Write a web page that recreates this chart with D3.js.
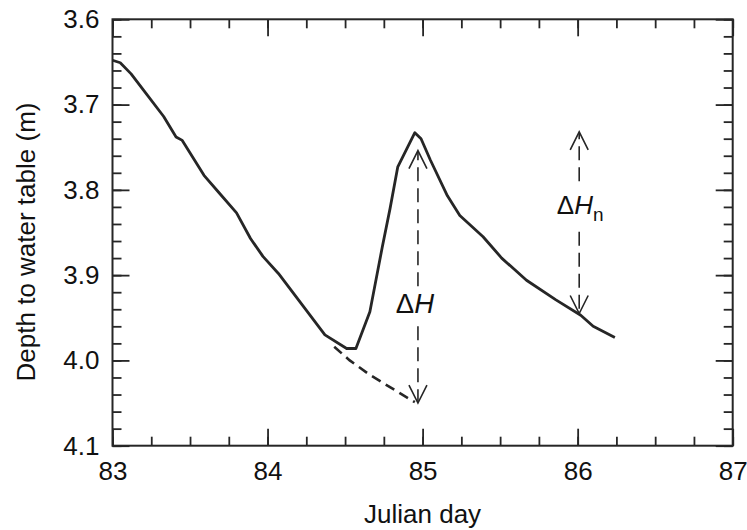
<!DOCTYPE html>
<html>
<head>
<meta charset="utf-8">
<script src="https://cdn.jsdelivr.net/npm/d3@7"></script>
<style>
  html, body { margin: 0; padding: 0; background: #fff; }
  svg { display: block; font-family: "Liberation Sans", Arial, Helvetica, sans-serif; }
</style>
</head>
<body>
<svg id="chart" width="747" height="530"></svg>
<script>
// Observed water-table depth (m) by Julian day
const days = [83.00, 83.05, 83.12, 83.20, 83.33, 83.41, 83.45, 83.59, 83.69, 83.80,
              83.89, 83.97, 84.07, 84.37, 84.51, 84.57, 84.66, 84.74, 84.79, 84.84,
              84.95, 84.99, 85.05, 85.16, 85.24, 85.39, 85.51, 85.67, 85.86, 86.02,
              86.10, 86.24];
const depth = [3.648, 3.651, 3.664, 3.683, 3.714, 3.738, 3.742, 3.783, 3.804, 3.827,
               3.857, 3.878, 3.898, 3.970, 3.986, 3.986, 3.943, 3.867, 3.822, 3.773,
               3.733, 3.740, 3.765, 3.807, 3.830, 3.855, 3.880, 3.906, 3.929, 3.947,
               3.960, 3.973];

// Extrapolated recession (no recharge event)
const recessDays  = [84.43, 84.53, 84.66, 84.95];
const recessDepth = [3.984, 4.000, 4.017, 4.049];

// Rise annotations: [day, bottom depth, top depth, label-gap bottom, label-gap top]
const riseH  = [84.97, 4.050, 3.754, 3.960, 3.913];
const riseHn = [86.01, 3.945, 3.732, 3.849, 3.790];

// Axis ticks
const xTicks = [83, 84, 85, 86, 87];
const yTicks = [3.6, 3.7, 3.8, 3.9, 4.0, 4.1];
const xMinor = d3.range(83, 87.001, 0.25);
const yMinor = d3.range(3.6, 4.1001, 0.02);

const margin = { left: 112.5, right: 14.3, top: 19.3, bottom: 84.3 };
const W = 747, H = 530;
const svg = d3.select("#chart");

const x = d3.scaleLinear().domain([83, 87]).range([margin.left, W - margin.right]);
const y = d3.scaleLinear().domain([3.6, 4.1]).range([margin.top, H - margin.bottom]);

const ink = "#262626";
const major = 17, minor = 9;

function styleAxis(g) {
  g.select(".domain").remove();
  g.selectAll(".tick line").attr("stroke", ink).attr("stroke-width", 1.8);
  g.selectAll("text").attr("fill", "#111").attr("font-size", 26);
}

// bottom
svg.append("g").attr("transform", `translate(0,${y(4.1)})`)
  .call(d3.axisBottom(x).tickValues(xMinor).tickSize(-minor).tickFormat(""))
  .call(styleAxis);
svg.append("g").attr("transform", `translate(0,${y(4.1)})`)
  .call(d3.axisBottom(x).tickValues(xTicks).tickSize(-major).tickPadding(16).tickFormat(d3.format("d")))
  .call(styleAxis);
// top
svg.append("g").attr("transform", `translate(0,${y(3.6)})`)
  .call(d3.axisTop(x).tickValues(xMinor).tickSize(-minor).tickFormat(""))
  .call(styleAxis);
svg.append("g").attr("transform", `translate(0,${y(3.6)})`)
  .call(d3.axisTop(x).tickValues(xTicks).tickSize(-major).tickFormat(""))
  .call(styleAxis);
// left
svg.append("g").attr("transform", `translate(${x(83)},0)`)
  .call(d3.axisLeft(y).tickValues(yMinor).tickSize(-minor).tickFormat(""))
  .call(styleAxis);
svg.append("g").attr("transform", `translate(${x(83)},0)`)
  .call(d3.axisLeft(y).tickValues(yTicks).tickSize(-major).tickPadding(13).tickFormat(d3.format(".1f")))
  .call(styleAxis);
// right
svg.append("g").attr("transform", `translate(${x(87)},0)`)
  .call(d3.axisRight(y).tickValues(yMinor).tickSize(-minor).tickFormat(""))
  .call(styleAxis);
svg.append("g").attr("transform", `translate(${x(87)},0)`)
  .call(d3.axisRight(y).tickValues(yTicks).tickSize(-major).tickFormat(""))
  .call(styleAxis);

// frame
svg.append("rect")
  .attr("x", x(83)).attr("y", y(3.6))
  .attr("width", x(87) - x(83)).attr("height", y(4.1) - y(3.6))
  .attr("fill", "none").attr("stroke", ink).attr("stroke-width", 2);

// observed hydrograph
const line = d3.line().x(d => x(d[0])).y(d => y(d[1]));
svg.append("path")
  .datum(days.map((d, i) => [d, depth[i]]))
  .attr("d", line)
  .attr("fill", "none").attr("stroke", ink).attr("stroke-width", 2.8)
  .attr("stroke-linejoin", "round");

// extrapolated recession
svg.append("path")
  .datum(recessDays.map((d, i) => [d, recessDepth[i]]))
  .attr("d", line)
  .attr("fill", "none").attr("stroke", ink).attr("stroke-width", 2.6)
  .attr("stroke-dasharray", "10,6");

// double-headed dashed arrows with a break for the label
function riseArrow(r) {
  const [day, lo, hi, gapLo, gapHi] = r;
  const px = x(day);
  const g = svg.append("g").attr("stroke", ink).attr("fill", "none").attr("stroke-width", 1.6);
  g.append("line").attr("x1", px).attr("x2", px).attr("y1", y(gapHi)).attr("y2", y(hi) + 1)
    .attr("stroke-dasharray", "14,7");
  g.append("line").attr("x1", px).attr("x2", px).attr("y1", y(gapLo)).attr("y2", y(lo) - 1)
    .attr("stroke-dasharray", "14,7");
  g.append("path").attr("d", `M${px - 9},${y(hi) + 18}L${px},${y(hi)}L${px + 9},${y(hi) + 18}`);
  g.append("path").attr("d", `M${px - 9},${y(lo) - 18}L${px},${y(lo)}L${px + 9},${y(lo) - 18}`);
}
riseArrow(riseH);
riseArrow(riseHn);

// labels
const lblH = svg.append("text")
  .attr("x", x(riseH[0]) - 3).attr("y", 312.5)
  .attr("text-anchor", "middle").attr("font-size", 27.5).attr("fill", "#111");
lblH.append("tspan").text("Δ");
lblH.append("tspan").attr("font-style", "italic").text("H");

const lblHn = svg.append("text")
  .attr("x", x(riseHn[0]) + 1).attr("y", 213.5)
  .attr("text-anchor", "middle").attr("font-size", 26).attr("fill", "#111");
lblHn.append("tspan").text("Δ");
lblHn.append("tspan").attr("font-style", "italic").text("H");
lblHn.append("tspan").attr("font-size", 19).attr("dy", 7).text("n");

// axis titles
svg.append("text")
  .attr("x", (x(83) + x(87)) / 2).attr("y", 523)
  .attr("text-anchor", "middle").attr("font-size", 26).attr("fill", "#111")
  .text("Julian day");

svg.append("text")
  .attr("transform", `translate(35,${242}) rotate(-90)`)
  .attr("text-anchor", "middle").attr("font-size", 26).attr("fill", "#111")
  .text("Depth to water table (m)");
</script>
</body>
</html>
